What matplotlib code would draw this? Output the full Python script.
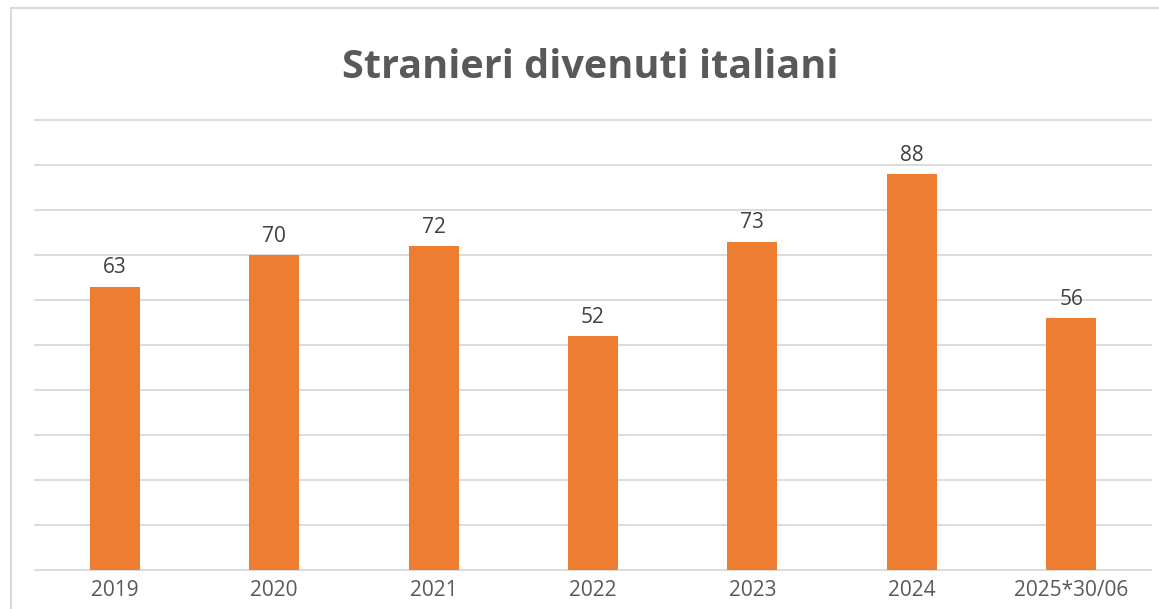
import matplotlib
matplotlib.use("Agg")
import matplotlib.pyplot as plt
from matplotlib.lines import Line2D

categories = ["2019", "2020", "2021", "2022", "2023", "2024", "2025*30/06"]
values = [63, 70, 72, 52, 73, 88, 56]
title = "Stranieri divenuti italiani"

W, H = 1159, 609
fig = plt.figure(figsize=(W / 100, H / 100), dpi=100)
ax = fig.add_axes([35 / W, 39 / H, (1151 - 35) / W, (570 - 120) / H])

x = list(range(len(categories)))
bars = ax.bar(x, values, width=0.313, color="#ED7D31", zorder=3)
ax.set_xlim(-0.5, len(categories) - 0.5)
ax.set_ylim(0, 100)
ax.set_yticks(range(0, 101, 10))
ax.yaxis.grid(True, color="#D9D9D9", linewidth=1.3, zorder=0)
for gl in ax.get_ygridlines():
    gl.set_clip_on(False)
ax.tick_params(axis="y", left=False, labelleft=False)
ax.tick_params(axis="x", length=0, pad=7, labelsize=15, labelcolor="#595959")
ax.set_xticks(x)
ax.set_xticklabels(categories, family="Open Sans")
for s in ax.spines.values():
    s.set_visible(False)

for xi, v in zip(x, values):
    ax.annotate(str(v), (xi, v), xytext=(0, 6), textcoords="offset points",
                ha="center", va="bottom", fontsize=15, color="#404040",
                family="Open Sans")

fig.text(590 / W, 1 - 68 / H, title, ha="center", va="center",
         fontsize=28.5, fontweight="bold", color="#595959", family="Open Sans")

# figure border (left and top visible)
fig.add_artist(Line2D([11 / W, 11 / W], [0, 1 - 8 / H], transform=fig.transFigure,
                      color="#D9D9D9", linewidth=1.5))
fig.add_artist(Line2D([11 / W, 1], [1 - 8 / H, 1 - 8 / H], transform=fig.transFigure,
                      color="#D9D9D9", linewidth=1.5))

fig.savefig("out.png", dpi=100)
